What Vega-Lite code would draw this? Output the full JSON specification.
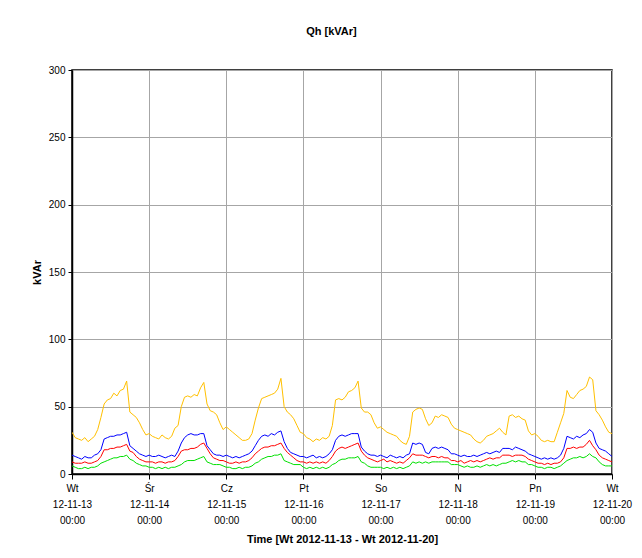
{
"$schema": "https://vega.github.io/schema/vega-lite/v6.json",
"autosize": {"type": "none"},
"width": 540, "height": 404,
"padding": {"left": 72, "top": 70, "right": 30, "bottom": 84},
"background": "white",
"title": {"text": "Qh [kVAr]", "frame": "bounds", "anchor": "middle", "font": "Liberation Sans", "fontSize": 11, "fontWeight": "bold", "offset": 28, "color": "black"},
"config": {"view": {"stroke": "black", "strokeWidth": 1.5}},
"data": {"values": [
{"h":0,"Y":31,"B":14,"R":9,"G":6},{"h":1,"Y":27,"B":13,"R":8,"G":5},{"h":2,"Y":26,"B":12,"R":8,"G":4},{"h":3,"Y":25,"B":11,"R":8,"G":4},{"h":4,"Y":27,"B":13,"R":9,"G":5},{"h":5,"Y":24,"B":12,"R":8,"G":4},{"h":6,"Y":26,"B":12,"R":8,"G":5},{"h":7,"Y":28,"B":14,"R":9,"G":5},{"h":8,"Y":33,"B":15,"R":10,"G":6},{"h":9,"Y":42,"B":18,"R":13,"G":8},{"h":10,"Y":52,"B":26,"R":18,"G":9},{"h":11,"Y":55,"B":27,"R":18,"G":10},{"h":12,"Y":56,"B":28,"R":19,"G":11},{"h":13,"Y":60,"B":28,"R":19,"G":12},{"h":14,"Y":58,"B":29,"R":20,"G":12},{"h":15,"Y":62,"B":29,"R":20,"G":13},{"h":16,"Y":63,"B":30,"R":21,"G":13},{"h":17,"Y":69,"B":31,"R":22,"G":14},{"h":18,"Y":46,"B":21,"R":17,"G":11},{"h":19,"Y":44,"B":19,"R":16,"G":10},{"h":20,"Y":42,"B":17,"R":13,"G":8},{"h":21,"Y":38,"B":15,"R":11,"G":7},{"h":22,"Y":33,"B":14,"R":10,"G":6},{"h":23,"Y":29,"B":13,"R":9,"G":6},
{"h":24,"Y":30,"B":14,"R":9,"G":5},{"h":25,"Y":28,"B":13,"R":9,"G":5},{"h":26,"Y":27,"B":13,"R":8,"G":4},{"h":27,"Y":26,"B":14,"R":9,"G":5},{"h":28,"Y":29,"B":13,"R":9,"G":4},{"h":29,"Y":27,"B":12,"R":8,"G":5},{"h":30,"Y":26,"B":13,"R":9,"G":4},{"h":31,"Y":28,"B":14,"R":9,"G":5},{"h":32,"Y":34,"B":13,"R":10,"G":5},{"h":33,"Y":36,"B":17,"R":13,"G":6},{"h":34,"Y":50,"B":23,"R":17,"G":7},{"h":35,"Y":57,"B":27,"R":18,"G":9},{"h":36,"Y":58,"B":29,"R":18,"G":10},{"h":37,"Y":57,"B":30,"R":19,"G":10},{"h":38,"Y":59,"B":29,"R":19,"G":10},{"h":39,"Y":58,"B":29,"R":20,"G":11},{"h":40,"Y":64,"B":30,"R":22,"G":12},{"h":41,"Y":68,"B":30,"R":23,"G":13},{"h":42,"Y":52,"B":21,"R":19,"G":9},{"h":43,"Y":47,"B":18,"R":15,"G":8},{"h":44,"Y":46,"B":15,"R":12,"G":7},{"h":45,"Y":44,"B":14,"R":11,"G":7},{"h":46,"Y":38,"B":14,"R":10,"G":7},{"h":47,"Y":33,"B":13,"R":10,"G":6},
{"h":48,"Y":35,"B":14,"R":9,"G":5},{"h":49,"Y":33,"B":13,"R":8,"G":5},{"h":50,"Y":31,"B":12,"R":8,"G":4},{"h":51,"Y":29,"B":13,"R":9,"G":4},{"h":52,"Y":27,"B":12,"R":8,"G":5},{"h":53,"Y":25,"B":13,"R":9,"G":4},{"h":54,"Y":25,"B":14,"R":9,"G":5},{"h":55,"Y":26,"B":15,"R":10,"G":5},{"h":56,"Y":30,"B":17,"R":12,"G":6},{"h":57,"Y":40,"B":21,"R":15,"G":8},{"h":58,"Y":49,"B":25,"R":17,"G":9},{"h":59,"Y":56,"B":28,"R":19,"G":11},{"h":60,"Y":57,"B":29,"R":20,"G":12},{"h":61,"Y":58,"B":28,"R":20,"G":13},{"h":62,"Y":59,"B":30,"R":21,"G":13},{"h":63,"Y":60,"B":29,"R":21,"G":14},{"h":64,"Y":63,"B":31,"R":22,"G":14},{"h":65,"Y":71,"B":32,"R":23,"G":15},{"h":66,"Y":50,"B":24,"R":19,"G":10},{"h":67,"Y":46,"B":19,"R":16,"G":9},{"h":68,"Y":44,"B":16,"R":14,"G":8},{"h":69,"Y":41,"B":15,"R":12,"G":7},{"h":70,"Y":36,"B":14,"R":10,"G":7},{"h":71,"Y":31,"B":13,"R":9,"G":7},
{"h":72,"Y":30,"B":13,"R":9,"G":5},{"h":73,"Y":27,"B":12,"R":8,"G":4},{"h":74,"Y":26,"B":13,"R":9,"G":5},{"h":75,"Y":24,"B":14,"R":8,"G":4},{"h":76,"Y":26,"B":12,"R":9,"G":5},{"h":77,"Y":25,"B":13,"R":8,"G":4},{"h":78,"Y":27,"B":12,"R":9,"G":5},{"h":79,"Y":26,"B":13,"R":8,"G":4},{"h":80,"Y":28,"B":15,"R":10,"G":5},{"h":81,"Y":36,"B":18,"R":13,"G":7},{"h":82,"Y":55,"B":25,"R":17,"G":8},{"h":83,"Y":56,"B":28,"R":19,"G":10},{"h":84,"Y":55,"B":29,"R":20,"G":11},{"h":85,"Y":57,"B":28,"R":19,"G":11},{"h":86,"Y":61,"B":29,"R":20,"G":12},{"h":87,"Y":62,"B":30,"R":21,"G":12},{"h":88,"Y":64,"B":30,"R":22,"G":12},{"h":89,"Y":69,"B":30,"R":23,"G":13},{"h":90,"Y":49,"B":20,"R":17,"G":9},{"h":91,"Y":46,"B":17,"R":14,"G":8},{"h":92,"Y":46,"B":15,"R":12,"G":6},{"h":93,"Y":44,"B":14,"R":11,"G":5},{"h":94,"Y":38,"B":14,"R":10,"G":5},{"h":95,"Y":34,"B":13,"R":9,"G":5},
{"h":96,"Y":35,"B":14,"R":10,"G":5},{"h":97,"Y":33,"B":13,"R":11,"G":4},{"h":98,"Y":31,"B":12,"R":9,"G":5},{"h":99,"Y":30,"B":14,"R":10,"G":4},{"h":100,"Y":29,"B":13,"R":9,"G":5},{"h":101,"Y":28,"B":12,"R":8,"G":4},{"h":102,"Y":25,"B":13,"R":9,"G":5},{"h":103,"Y":23,"B":12,"R":8,"G":4},{"h":104,"Y":22,"B":14,"R":10,"G":5},{"h":105,"Y":28,"B":15,"R":12,"G":6},{"h":106,"Y":46,"B":23,"R":15,"G":9},{"h":107,"Y":48,"B":22,"R":14,"G":8},{"h":108,"Y":49,"B":23,"R":14,"G":9},{"h":109,"Y":48,"B":22,"R":14,"G":8},{"h":110,"Y":41,"B":16,"R":13,"G":9},{"h":111,"Y":36,"B":15,"R":12,"G":8},{"h":112,"Y":38,"B":19,"R":13,"G":9},{"h":113,"Y":43,"B":20,"R":13,"G":9},{"h":114,"Y":42,"B":19,"R":12,"G":9},{"h":115,"Y":44,"B":20,"R":13,"G":9},{"h":116,"Y":43,"B":19,"R":12,"G":9},{"h":117,"Y":42,"B":18,"R":12,"G":9},{"h":118,"Y":37,"B":15,"R":10,"G":7},{"h":119,"Y":34,"B":15,"R":10,"G":7},
{"h":120,"Y":33,"B":14,"R":9,"G":7},{"h":121,"Y":32,"B":13,"R":10,"G":6},{"h":122,"Y":31,"B":14,"R":8,"G":5},{"h":123,"Y":30,"B":13,"R":9,"G":6},{"h":124,"Y":29,"B":13,"R":10,"G":5},{"h":125,"Y":26,"B":14,"R":9,"G":5},{"h":126,"Y":24,"B":13,"R":10,"G":6},{"h":127,"Y":23,"B":14,"R":9,"G":5},{"h":128,"Y":25,"B":15,"R":10,"G":6},{"h":129,"Y":28,"B":16,"R":11,"G":7},{"h":130,"Y":29,"B":15,"R":12,"G":6},{"h":131,"Y":30,"B":16,"R":11,"G":7},{"h":132,"Y":32,"B":17,"R":12,"G":6},{"h":133,"Y":34,"B":16,"R":12,"G":7},{"h":134,"Y":31,"B":19,"R":14,"G":8},{"h":135,"Y":29,"B":19,"R":14,"G":8},{"h":136,"Y":43,"B":19,"R":14,"G":9},{"h":137,"Y":44,"B":18,"R":13,"G":10},{"h":138,"Y":42,"B":20,"R":14,"G":9},{"h":139,"Y":43,"B":19,"R":14,"G":10},{"h":140,"Y":41,"B":18,"R":14,"G":9},{"h":141,"Y":40,"B":17,"R":13,"G":9},{"h":142,"Y":32,"B":15,"R":11,"G":7},{"h":143,"Y":29,"B":14,"R":10,"G":7},
{"h":144,"Y":30,"B":13,"R":9,"G":6},{"h":145,"Y":28,"B":12,"R":8,"G":5},{"h":146,"Y":25,"B":11,"R":8,"G":5},{"h":147,"Y":24,"B":12,"R":7,"G":4},{"h":148,"Y":25,"B":11,"R":8,"G":5},{"h":149,"Y":24,"B":12,"R":7,"G":5},{"h":150,"Y":24,"B":11,"R":8,"G":4},{"h":151,"Y":31,"B":12,"R":8,"G":5},{"h":152,"Y":38,"B":14,"R":9,"G":6},{"h":153,"Y":45,"B":19,"R":12,"G":8},{"h":154,"Y":62,"B":28,"R":19,"G":10},{"h":155,"Y":57,"B":27,"R":19,"G":11},{"h":156,"Y":56,"B":26,"R":20,"G":12},{"h":157,"Y":59,"B":28,"R":19,"G":12},{"h":158,"Y":62,"B":27,"R":20,"G":13},{"h":159,"Y":63,"B":29,"R":20,"G":12},{"h":160,"Y":65,"B":30,"R":22,"G":13},{"h":161,"Y":72,"B":33,"R":25,"G":15},{"h":162,"Y":70,"B":31,"R":21,"G":13},{"h":163,"Y":47,"B":23,"R":18,"G":12},{"h":164,"Y":44,"B":19,"R":14,"G":9},{"h":165,"Y":40,"B":18,"R":12,"G":7},{"h":166,"Y":35,"B":17,"R":11,"G":6},{"h":167,"Y":31,"B":15,"R":10,"G":6},
{"h":168,"Y":30,"B":13,"R":9,"G":6}
]},
"transform": [{"fold": ["Y", "B", "R", "G"], "as": ["s", "v"]}],
"mark": {"type": "line", "strokeWidth": 1, "clip": true},
"encoding": {
"x": {"field": "h", "type": "quantitative", "scale": {"domain": [0, 168], "nice": false, "zero": false},
 "axis": {"values": [0, 24, 48, 72, 96, 120, 144, 168], "title": "Time [Wt 2012-11-13 - Wt 2012-11-20]",
  "labelExpr": "[datum.value < 12 ? 'Wt' : datum.value < 36 ? 'Śr' : datum.value < 60 ? 'Cz' : datum.value < 84 ? 'Pt' : datum.value < 108 ? 'So' : datum.value < 132 ? 'N' : datum.value < 156 ? 'Pn' : 'Wt', '12-11-' + (13 + round(datum.value/24)), '00:00']",
  "labelFlush": false, "labelOverlap": false, "labelBound": false,
  "labelLineHeight": 16, "labelFont": "Liberation Sans", "labelFontSize": 10, "labelColor": "black", "labelPadding": 4,
  "titleFont": "Liberation Sans", "titleFontSize": 11, "titleFontWeight": "bold", "titleColor": "black", "titlePadding": 8,
  "domainColor": "black", "domainWidth": 1.5, "tickColor": "black", "tickSize": 5,
  "grid": true, "gridColor": "#a6a6a6", "gridWidth": 1}},
"y": {"field": "v", "type": "quantitative", "scale": {"domain": [0, 300], "nice": false},
 "axis": {"values": [0, 50, 100, 150, 200, 250, 300], "title": "kVAr",
  "labelFont": "Liberation Sans", "labelFontSize": 10, "labelColor": "black", "labelPadding": 3,
  "titleFont": "Liberation Sans", "titleFontSize": 11, "titleFontWeight": "bold", "titleColor": "black", "titlePadding": 6,
  "domainColor": "black", "domainWidth": 1.5, "tickColor": "black", "tickSize": 4,
  "grid": true, "gridColor": "#a6a6a6", "gridWidth": 1}},
"color": {"field": "s", "type": "nominal", "legend": null,
 "scale": {"domain": ["Y", "B", "R", "G"], "range": ["#ffc000", "#0000ff", "#ff0000", "#00e000"]}},
"order": {"field": "h", "type": "quantitative"}
}
}
